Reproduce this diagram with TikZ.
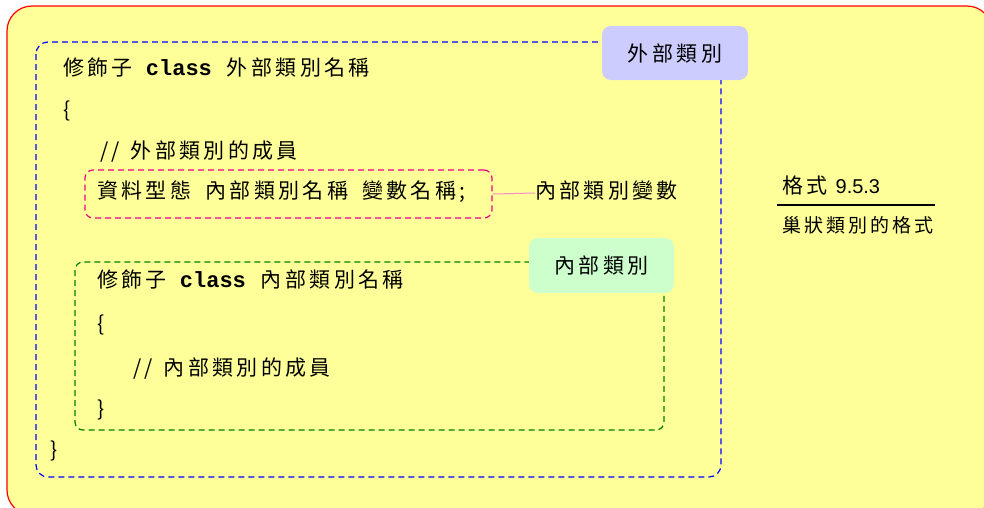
\documentclass[tikz,border=0pt]{standalone}
\usepackage{fontspec}
\setmainfont[LetterSpace=16]{Noto Sans CJK TC}
\setmonofont{Liberation Mono}
\newfontfamily\latinsans{Liberation Sans}
\begin{document}
\begin{tikzpicture}[x=1pt,y=-1pt,
  txt/.style={anchor=west,inner sep=0pt,font=\fontsize{21}{22}\selectfont,text height=15pt,text depth=4pt},
  lbl/.style={rounded corners=9pt,inner sep=0pt,font=\fontsize{21}{22}\selectfont}]
\useasboundingbox (0,0) rectangle (984,507);
% outer frame
\draw[red,line width=1.2pt,fill={rgb,255:red,255;green,255;blue,153},rounded corners=25pt] (7,6) rectangle (992,515);
% blue outer class
\draw[blue,dashed,line width=1.2pt,dash pattern=on 6pt off 4pt,rounded corners=12pt] (36,42) rectangle (721,477);
\node[lbl,fill={rgb,255:red,204;green,204;blue,255},minimum width=146pt,minimum height=54pt] (outerlbl) at (675,53) {外部類別};
% green inner class
\draw[green!50!black,dashed,line width=1.2pt,dash pattern=on 6pt off 4pt,rounded corners=8pt] (75,262) rectangle (664,430);
\node[lbl,fill={rgb,255:red,204;green,255;blue,204},minimum width=145pt,minimum height=55pt] (innerlbl) at (601.5,265.5) {內部類別};
% pink dashed
\node[draw=magenta,dashed,line width=1.2pt,dash pattern=on 6pt off 4pt,rounded corners=8pt,minimum width=407pt,minimum height=48pt] (var) at (288.5,194) {};
\node[txt] (t4) at (97,193) {資料型態\hspace{6pt} 內部類別名稱\hspace{6pt} 變數名稱;};
\node[txt] (varlbl) at (535,193) {內部類別變數};
\draw[magenta!45,line width=1pt] (var.east) -- (varlbl.west);
% code lines
\node[txt] (t1) at (63,70) {修飾子\hspace{13pt}{\fontsize{22}{22}\selectfont\ttfamily\bfseries class}\hspace{7pt} 外部類別名稱};
\node[txt] (t2) at (63,112) {\{};
\node[txt] (t3) at (100,153) {/\hspace{3pt}/\hspace{3pt} 外部類別的成員};
\node[txt] (t5) at (97,282) {修飾子\hspace{13pt}{\fontsize{22}{22}\selectfont\ttfamily\bfseries class}\hspace{7pt} 內部類別名稱};
\node[txt] (t6) at (97,326) {\{};
\node[txt] (t7) at (133,370) {/\hspace{3pt}/\hspace{3pt} 內部類別的成員};
\node[txt] (t8) at (97,411) {\}};
\node[txt] (t9) at (50,452) {\}};
% format caption
\node[txt] (f1) at (782,188) {格式 {\latinsans\fontsize{20}{20}\selectfont 9.5.3}};
\node[txt,font=\fontsize{19}{20}\selectfont] (f2) at (782,227) {巢狀類別的格式};
\coordinate (la) at (777,205);
\coordinate (lb) at (935,205);
\draw[line width=1.5pt] (la) -- (lb);
\end{tikzpicture}
\end{document}
